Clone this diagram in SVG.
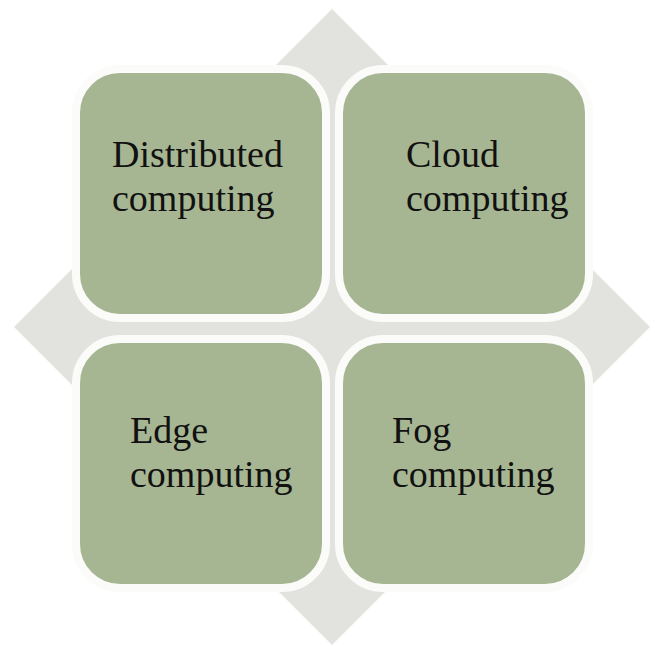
<svg xmlns="http://www.w3.org/2000/svg" width="655" height="646" viewBox="0 0 655 646">
  <style>
    .tile { fill: #a7b692; stroke: #fbfbfa; stroke-width: 8; }
    .label { font-family: "Liberation Serif", "Times New Roman", serif; font-size: 38px; fill: #111111; }
  </style>
  <rect width="655" height="646" fill="#ffffff"/>
  <!-- background diamond -->
  <polygon id="diamond" points="332,9 650,327 332,645 14,327" fill="#e2e3de"/>
  <g id="connectors"></g>
  <g id="distributed">
    <rect class="tile" x="76" y="69" width="250" height="249" rx="44"/>
    <text class="label" x="112" y="167">Distributed</text>
    <text class="label" x="112" y="211">computing</text>
  </g>
  <g id="cloud">
    <rect class="tile" x="339" y="69" width="250" height="249" rx="44"/>
    <text class="label" x="406" y="167">Cloud</text>
    <text class="label" x="406" y="211">computing</text>
  </g>
  <g id="edge">
    <rect class="tile" x="76" y="339" width="250" height="249" rx="44"/>
    <text class="label" x="130" y="443">Edge</text>
    <text class="label" x="130" y="487">computing</text>
  </g>
  <g id="fog">
    <rect class="tile" x="339" y="339" width="250" height="249" rx="44"/>
    <text class="label" x="392" y="443">Fog</text>
    <text class="label" x="392" y="487">computing</text>
  </g>
</svg>
